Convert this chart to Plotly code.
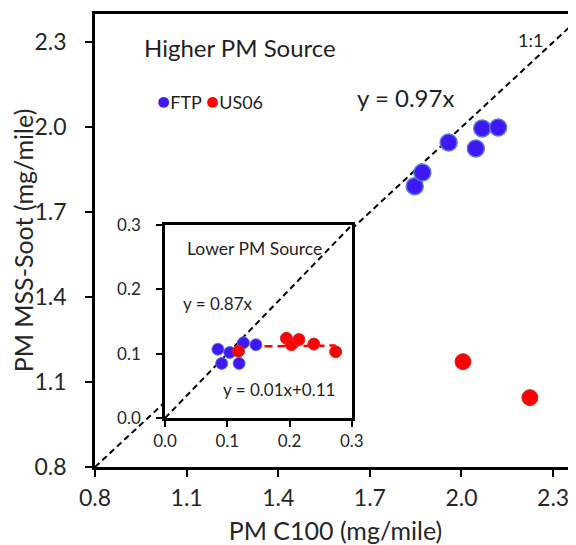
import plotly.graph_objects as go

# ---- data ----
ftp_x = [1.847, 1.872, 1.958, 2.047, 2.068, 2.120]
ftp_y = [1.792, 1.840, 1.946, 1.925, 1.996, 1.999]
us06_x = [2.005, 2.224]
us06_y = [1.172, 1.045]

low_ftp_x = [0.085, 0.091, 0.104, 0.119, 0.126, 0.146]
low_ftp_y = [0.107, 0.085, 0.102, 0.085, 0.117, 0.114]
low_us06_x = [0.118, 0.195, 0.203, 0.215, 0.239, 0.274]
low_us06_y = [0.104, 0.124, 0.114, 0.122, 0.115, 0.103]

main_ticks = [0.8, 1.1, 1.4, 1.7, 2.0, 2.3]
inset_ticks = [0.0, 0.1, 0.2, 0.3]
main_range = [0.8, 2.4]
inset_range = [0.0, 0.3]
trend_slope, trend_icept = 0.01, 0.11

BLUE = "#3F17F4"
BLUE_EDGE = "#5A78DA"
RED = "#FF0000"
RED_EDGE = "#D22A2A"
FONT = "Lato"
TXT = "#1f1f1f"

fig = go.Figure()

# 1:1 line main
fig.add_trace(go.Scatter(x=main_range, y=main_range, mode="lines",
                         line=dict(color="black", width=2, dash="6px,4px"),
                         showlegend=False, hoverinfo="skip"))
fig.add_trace(go.Scatter(x=ftp_x, y=ftp_y, mode="markers", name="FTP", showlegend=False,
                         marker=dict(color=BLUE, size=17, line=dict(color=BLUE_EDGE, width=1.5))))
fig.add_trace(go.Scatter(x=us06_x, y=us06_y, mode="markers", name="US06", showlegend=False,
                         marker=dict(color=RED, size=16, line=dict(color=RED_EDGE, width=1))))

# inset
fig.add_trace(go.Scatter(x=inset_range, y=inset_range, mode="lines", xaxis="x2", yaxis="y2",
                         line=dict(color="black", width=2, dash="6px,4px"),
                         showlegend=False, hoverinfo="skip"))
tx = [min(low_us06_x), max(low_us06_x)]
fig.add_trace(go.Scatter(x=tx, y=[trend_slope * v + trend_icept for v in tx], mode="lines",
                         xaxis="x2", yaxis="y2",
                         line=dict(color=RED, width=2.5, dash="8px,5px"),
                         showlegend=False, hoverinfo="skip"))
fig.add_trace(go.Scatter(x=low_ftp_x, y=low_ftp_y, mode="markers", xaxis="x2", yaxis="y2",
                         marker=dict(color=BLUE, size=12, line=dict(color=BLUE_EDGE, width=1)),
                         showlegend=False))
fig.add_trace(go.Scatter(x=low_us06_x, y=low_us06_y, mode="markers", xaxis="x2", yaxis="y2",
                         marker=dict(color=RED, size=12, line=dict(color=RED_EDGE, width=1)),
                         showlegend=False))

axis_common = dict(showgrid=False, zeroline=False, showline=True, linecolor="black",
                   ticks="outside", tickcolor="black", automargin=False)

def ann(text, x, y, size):
    return dict(text=text, x=x, y=y, xref="paper", yref="paper", xanchor="center",
                yanchor="middle", showarrow=False, font=dict(size=size, family=FONT, color=TXT))

legend_text = (f"<span style='color:{BLUE};font-size:22px'>●</span>FTP "
               f"<span style='color:{RED};font-size:22px'>●</span>US06")

fig.update_layout(
    width=568, height=537,
    margin=dict(l=87, r=0, t=6, b=78),
    paper_bgcolor="white", plot_bgcolor="white",
    font=dict(family=FONT, color=TXT),
    xaxis=dict(**axis_common, range=[0.8, 2.375], tickvals=main_ticks,
               ticktext=[f"{v:.1f}" for v in main_ticks], linewidth=2.5, mirror=True,
               ticklen=7, tickwidth=2, tickfont=dict(size=23, family=FONT, color="#262626"),
               ticklabelstandoff=2,
               title=dict(text="PM C100 (mg/mile)", font=dict(size=25, family=FONT, color="#262626"),
                          standoff=16)),
    yaxis=dict(**axis_common, range=main_range, tickvals=main_ticks,
               ticktext=[f"{v:.1f}" for v in main_ticks], linewidth=2.5,
               ticklen=7, tickwidth=2, tickfont=dict(size=23, family=FONT, color="#262626"),
               ticklabelstandoff=14,
               title=dict(text="PM MSS-Soot (mg/mile)", font=dict(size=25, family=FONT, color="#262626"),
                          standoff=16)),
    xaxis2=dict(**axis_common, domain=[0.1455, 0.534], anchor="y2", range=inset_range,
                tickvals=inset_ticks, ticktext=[f"{v:.1f}" for v in inset_ticks],
                linewidth=2.5, mirror=True, ticklen=6, tickwidth=2,
                tickfont=dict(size=17, family=FONT, color="#262626")),
    yaxis2=dict(**axis_common, domain=[0.108, 0.534], anchor="x2", range=inset_range,
                tickvals=inset_ticks, ticktext=[f"{v:.1f}" for v in inset_ticks],
                linewidth=2.5, mirror=True, ticklen=6, tickwidth=2,
                tickfont=dict(size=17, family=FONT, color="#262626"), ticklabelstandoff=12),
    annotations=[
        ann("Higher PM Source", 0.3015, 0.925, 24),
        ann(legend_text, 0.24, 0.808, 18),
        ann("y = 0.97x", 0.6445, 0.8146, 24),
        ann("1:1", 0.905, 0.943, 18),
        ann("Lower PM Source", 0.3312, 0.4834, 17.5),
        ann("y = 0.87x", 0.2557, 0.362, 17),
        ann("y = 0.01x+0.11", 0.3815, 0.170, 17),
    ],
)

fig.write_html("out.html")
